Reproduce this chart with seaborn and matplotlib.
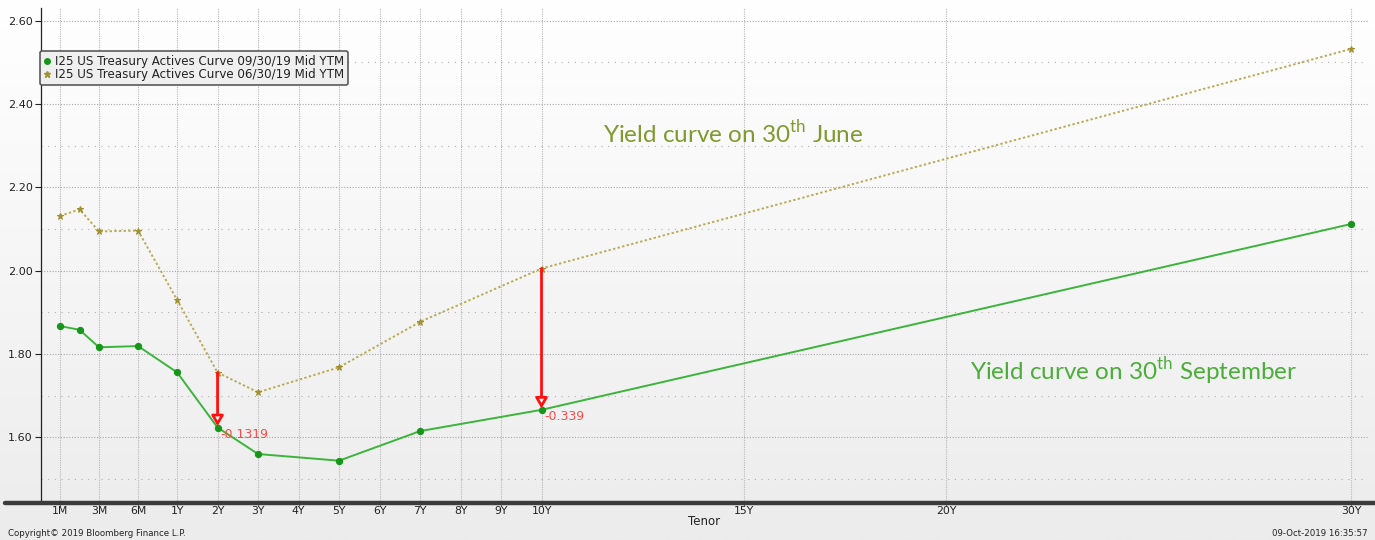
import numpy as np
import matplotlib
matplotlib.use("Agg")
import matplotlib.pyplot as plt
from matplotlib.lines import Line2D
from matplotlib.patches import FancyArrowPatch
import seaborn as sns
import pandas as pd

# --- data -------------------------------------------------------------
tenors = ["1M", "2M", "3M", "6M", "1Y", "2Y", "3Y", "5Y", "7Y", "10Y", "30Y"]
tenor_months = [1, 2, 3, 6, 12, 24, 36, 60, 84, 120, 360]
yield_sep = [1.867, 1.858, 1.816, 1.819, 1.756, 1.6236, 1.560, 1.544, 1.615, 1.666, 2.112]
yield_jun = [2.131, 2.147, 2.094, 2.096, 1.930, 1.7555, 1.708, 1.768, 1.877, 2.005, 2.532]

tick_labels = ["1M", "3M", "6M", "1Y", "2Y", "3Y", "4Y", "5Y", "6Y", "7Y", "8Y", "9Y",
               "10Y", "15Y", "20Y", "30Y"]
tick_months = [1, 3, 6, 12, 24, 36, 48, 60, 72, 84, 96, 108, 120, 180, 240, 360]

label_sep = "I25 US Treasury Actives Curve 09/30/19 Mid YTM"
label_jun = "I25 US Treasury Actives Curve 06/30/19 Mid YTM"
highlight = ["2Y", "10Y"]


def tenor_axis(months):
    """Bloomberg-style tenor axis: short end stretched, linear in years from 1Y."""
    return np.interp(months, [1, 3, 6, 12, 360], [0, 0.963, 1.926, 2.89, 31.89])


df = pd.DataFrame({
    "tenor": tenors * 2,
    "pos": list(tenor_axis(tenor_months)) * 2,
    "yield": yield_sep + yield_jun,
    "curve": [label_sep] * len(tenors) + [label_jun] * len(tenors),
})

# --- figure -----------------------------------------------------------
sns.set_theme(style="white")
plt.rcParams["font.family"] = ["DejaVu Sans"]
plt.rcParams["mathtext.fontset"] = "custom"
plt.rcParams["mathtext.rm"] = "Lato"

W, H = 1375, 540
fig = plt.figure(figsize=(W / 100, H / 100), dpi=100)

# soft vertical gradient behind everything
bg = fig.add_axes([0, 0, 1, 1], zorder=-10)
grad = np.linspace(1.0, 0.0, 256).reshape(-1, 1)
bg.imshow(grad, aspect="auto", cmap=matplotlib.colors.LinearSegmentedColormap.from_list(
    "bg", ["#ececec", "#ffffff"]), extent=[0, 1, 0, 1])
bg.axis("off")

left, right, top, bottom = 41, 1368, 8, 503
ax = fig.add_axes([left / W, 1 - bottom / H, (right - left) / W, (bottom - top) / H])
ax.patch.set_alpha(0)

green_line = "#3cb43c"
green_mark = "#15961a"
gold_line = "#b9ab55"
gold_mark = "#a09030"

sep = df[df.curve == label_sep]
jun = df[df.curve == label_jun]
sns.lineplot(data=jun, x="pos", y="yield", ax=ax, color=gold_line, lw=1.4,
             linestyle=(0, (1.2, 1.2)), marker="*", markersize=5,
             markerfacecolor=gold_mark, markeredgecolor=gold_mark, zorder=3)
sns.lineplot(data=sep, x="pos", y="yield", ax=ax, color=green_line, lw=1.4,
             marker="o", markersize=4.5, markerfacecolor=green_mark,
             markeredgecolor=green_mark, zorder=4)

ax.set_xlim(tenor_axis(1) - 0.47, 32.3)
ax.set_ylim(1.4425, 2.630)

# grid
xt = tenor_axis(tick_months)
ax.set_xticks(xt)
ax.set_xticklabels(tick_labels, fontsize=7.8, color="#222222")
ax.set_yticks(np.arange(1.6, 2.61, 0.2))
ax.set_yticklabels([f"{v:.2f}" for v in np.arange(1.6, 2.61, 0.2)], fontsize=8, color="#222222")
ax.set_yticks(np.arange(1.5, 2.61, 0.2), minor=True)
for x in xt:
    ax.axvline(x, color="#b8b8b8", lw=0.8, linestyle=(0, (1, 1)), zorder=1)
for y in np.arange(1.6, 2.61, 0.2):
    ax.axhline(y, color="#a8a8a8", lw=0.8, linestyle=(0, (1, 1.5)), zorder=1)
for y in np.arange(1.5, 2.61, 0.2):
    ax.axhline(y, color="#b0b0b0", lw=0.8, linestyle=(0, (1, 5)), zorder=1)

ax.tick_params(axis="y", which="major", direction="out", length=4, width=0.8,
               color="#222222", pad=2, left=True)
ax.tick_params(axis="y", which="minor", length=0)
ax.tick_params(axis="x", direction="out", length=2, width=0.6, color="#555555", pad=0.5,
               bottom=True)
ax.set_xlabel("Tenor", fontsize=8.5, color="#222222", labelpad=-1)
ax.set_ylabel("")
for s in ["top", "right", "bottom"]:
    ax.spines[s].set_visible(False)
ax.spines["left"].set_color("#222222")
ax.spines["left"].set_linewidth(0.9)

# thick baseline running the full width
fig.add_artist(Line2D([5 / W, 1.0], [1 - bottom / H] * 2, color="#3c3c3c", lw=3.2,
                      transform=fig.transFigure, zorder=5))

# spread arrows between the two curves
for t in highlight:
    i = tenors.index(t)
    x = tenor_axis(tenor_months[i])
    y0, y1 = yield_jun[i], yield_sep[i]
    arr = FancyArrowPatch((x, y0), (x, y1), arrowstyle="-|>,head_width=3.5,head_length=6",
                          mutation_scale=1, lw=2, color="#ff1010", zorder=6,
                          shrinkA=0, shrinkB=1)
    arr.set_facecolor("white")
    arr.set_edgecolor("#ff1010")
    ax.add_patch(arr)
    ax.annotate(f"{y1 - y0:.4g}", (x, y1), xytext=(3, -7), textcoords="offset pixels",
                fontsize=9, color="#ff4a4a", ha="left", va="center", zorder=7)

# curve captions
ax.text(603 / W, 1 - 133 / H, r"Yield curve on 30$^{\mathrm{th}}$ June", transform=fig.transFigure,
        fontsize=17.5, family="Lato", color="#7f9a2e", ha="left", va="center")
ax.text(970 / W, 1 - 371 / H, r"Yield curve on 30$^{\mathrm{th}}$ September",
        transform=fig.transFigure, fontsize=17.5, family="Lato", color="#4cae3a",
        ha="left", va="center")

# legend
handles = [
    Line2D([], [], ls="none", marker="o", markersize=4, color=green_mark, label=label_sep),
    Line2D([], [], ls="none", marker="*", markersize=5, color=gold_mark, label=label_jun),
]
leg = ax.legend(handles=handles, loc="upper left", bbox_to_anchor=(40 / W, 1 - 51 / H),
                bbox_transform=fig.transFigure, fontsize=8.6, frameon=True, fancybox=True,
                handlelength=0.5, handletextpad=0.4, labelspacing=0.0, borderpad=0.35,
                borderaxespad=0, framealpha=1)
leg.get_frame().set_facecolor("#efefef")
leg.get_frame().set_edgecolor("#5a5a5a")
leg.get_frame().set_linewidth(1.2)
for txt in leg.get_texts():
    txt.set_color("#222222")

# footer
fig.text(8 / W, 1 - 534 / H, "Copyright\u00a9 2019 Bloomberg Finance L.P.", fontsize=6.2,
         color="#222222", ha="left", va="center")
fig.text(1368 / W, 1 - 534 / H, "09-Oct-2019 16:35:57", fontsize=6.2, color="#222222",
         ha="right", va="center")

fig.savefig("out.png", dpi=100)
